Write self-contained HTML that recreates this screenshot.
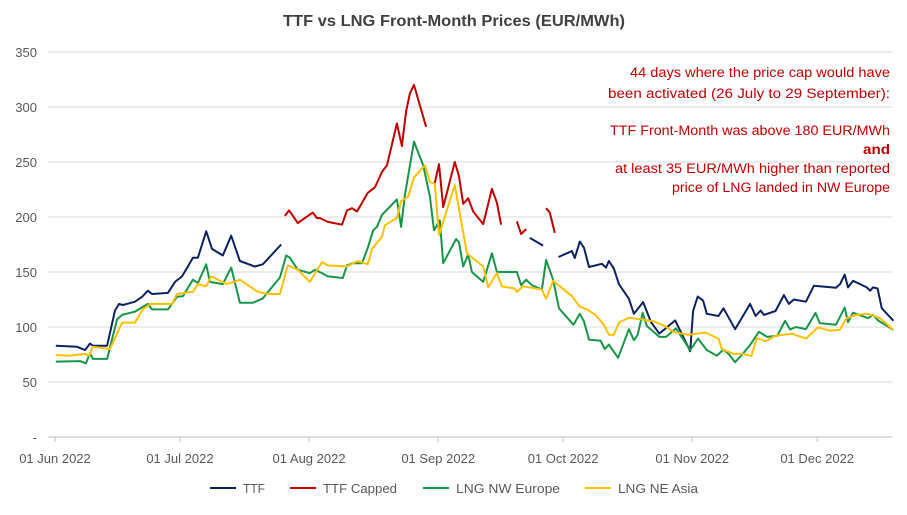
<!DOCTYPE html>
<html><head><meta charset="utf-8"><style>
body{margin:0;background:#fff;width:907px;height:510px;overflow:hidden;font-family:"Liberation Sans",sans-serif}
svg text{font-family:"Liberation Sans",sans-serif}
</style></head><body>
<svg id="chart" width="907" height="510" xmlns="http://www.w3.org/2000/svg">
<text x="283" y="26" textLength="342" lengthAdjust="spacingAndGlyphs" font-size="15.5" font-weight="bold" fill="#404040">TTF vs LNG Front-Month Prices (EUR/MWh)</text>
<g id="grid"></g><g id="yt"></g><g id="xt"></g><g id="series"></g>
<g fill="#C00000" font-size="13.5" text-anchor="end">
<text x="890" y="77" textLength="260" lengthAdjust="spacingAndGlyphs">44 days where the price cap would have</text>
<text x="890" y="98" textLength="282" lengthAdjust="spacingAndGlyphs">been activated (26 July to 29 September):</text>
<text x="890" y="135" textLength="280" lengthAdjust="spacingAndGlyphs">TTF Front-Month  was above 180 EUR/MWh</text>
<text x="890" y="154" font-weight="bold" textLength="27" lengthAdjust="spacingAndGlyphs">and</text>
<text x="890" y="173" textLength="275" lengthAdjust="spacingAndGlyphs">at least 35 EUR/MWh higher than reported</text>
<text x="890" y="192" textLength="218" lengthAdjust="spacingAndGlyphs">price of LNG landed in NW Europe</text>
</g>
<g id="legend"></g>
</svg>
<script>
const yTicks=[0,50,100,150,200,250,300,350];
const xTickDays=[0,30,61,92,122,153,183];
const xTickLabels=["01 Jun 2022","01 Jul 2022","01 Aug 2022","01 Sep 2022","01 Oct 2022","01 Nov 2022","01 Dec 2022"];
const seriesNames=["TTF","TTF Capped","LNG NW Europe","LNG NE Asia"];
const seriesColors=["#0D2161","#C00000","#17964A","#FFC000"];
const ttf=[[0.2,83],[5.3,82],[7.2,79],[8.4,85],[9.1,83],[12.5,83],[14.4,115],[15.4,121],[16.3,120],[19.2,123],[20.9,127.5],[22.3,133],[23.3,130],[27.1,131],[28.8,141],[30.5,146],[31.9,155],[33.1,163],[34.3,163],[36.3,187],[37.7,171],[40.3,165],[42.3,183],[44.4,160],[48,155],[49.9,157],[54.3,175],null,[114,181],[117.2,174],null,[120.9,163.6],[124.1,169],[124.8,162.7],[126,177.6],[127,172],[128.2,154.5],[131.3,157.5],[132.3,154],[133,160],[134.2,153],[135.4,139],[137.8,125.6],[139,112],[141.2,122.6],[143.1,104.5],[145.1,94],[148.9,106],[152.5,78],[153.2,114.5],[154.3,127.7],[155.6,124],[156.5,112],[159.3,110],[160.5,117],[163.3,98],[166.9,121],[168.2,110],[169.4,115],[170.2,111],[173,114.5],[175,129],[176.2,121],[177.4,125],[180.3,123],[182.2,137.5],[187.5,135.6],[188.5,139],[189.6,147.6],[190.4,136],[191.6,142],[194.9,136],[195.7,133],[196.4,136],[197.5,135],[198.5,117],[201.3,105.7]];
const ttfCapped=[[55.2,201],[56.2,206],[58.3,194.5],[61.9,204],[62.9,199],[63.6,199],[65.5,195.5],[68.9,193],[70.1,206],[71.3,208],[72.5,205],[75.1,222],[76.8,227],[78.5,241],[79.7,247],[82.1,285],[83.3,264.5],[84.3,296],[85.2,312.5],[86.2,320],[89.1,282],null,[91.2,231],[92.2,248],[93.2,209],[96,250],[97,237],[98,212],[99.2,217],[100.4,205],[102.8,193.5],[104.9,225.5],[106.1,213],[107.1,193],null,[110.9,196],[111.9,184.5],[113.1,189],null,[117.9,208],[118.8,204],[120,185.5]];
const lngNW=[[0.2,68.5],[6,69],[7.4,67],[8.4,76],[9.1,71],[12.5,71],[14.9,107],[16.1,111],[19.2,114],[22.3,121],[23.3,116],[27.1,116],[29.3,127.5],[30.7,128],[33.1,143],[34.3,140],[36.3,157],[37.2,141],[40.3,139],[42.3,154],[44.4,122],[47.5,122],[49.9,126],[54,145],[55.5,165],[56.4,163],[58.3,152],[61.2,149],[62.4,152],[64.1,149],[65.5,146],[69.1,144.5],[70.1,156],[71.5,158],[73.7,158],[75.1,172],[76.4,188],[77.3,191],[78.5,202],[82.1,216],[83.1,191],[84,220],[86.2,268.5],[88.4,247],[90,218.5],[91,188],[92.4,197],[93.2,158],[96.3,180],[97,177],[98,155],[99.2,166],[100.1,150],[102.8,141],[104.9,167],[106.1,150],[110.9,150],[111.9,138],[113.1,143],[114.5,138],[116.9,134],[117.9,161],[119.6,143],[121,117],[124.5,102],[126,112],[127,105],[128.2,88.5],[131,87.5],[132,80],[133,84],[133.7,80],[135.2,72],[137.8,98],[139,88],[139.9,93],[141.1,113],[142.1,101],[145.1,91],[146.7,91],[149.1,98.7],[152.5,79],[154.4,89.5],[156.5,79],[158.9,74],[160.5,79.5],[161.7,75.6],[163.3,68],[165,75],[166.9,83.6],[169,95.6],[171,91],[173.4,92],[175.3,105.5],[176.5,97.7],[177.9,100],[180.3,98],[182.6,112.8],[183.6,103.5],[187.5,102],[189.6,117.6],[190.4,104.5],[191.6,113],[195.2,108],[196.4,111],[197.6,106],[201.3,97.3]];
const lngAsia=[[0.2,74.5],[3.6,74],[7.2,75.5],[8.2,74],[9.1,82],[13.2,80],[16.1,104],[19.2,104],[20.9,115],[22.8,121],[28.1,121],[29.3,130],[33.1,132],[34.3,139],[36.3,137],[37.5,146],[41.3,139],[44.4,143],[48.7,132],[51.1,130],[54,130],[55.9,156],[58.3,152],[61.2,141],[64.1,159],[65.5,156],[70.1,155],[72.7,160],[75.1,157],[76.1,171],[78.5,182],[79.2,192.5],[82.1,199],[83.1,214.5],[84.8,218.5],[86.2,236],[88.8,247],[90,232],[91.2,230],[92.2,183.5],[96,229],[98.9,167],[102.8,155],[104,136],[106.1,149],[107.3,137],[110.4,135],[110.9,132],[112.4,137],[116.9,134],[117.9,125.5],[119.6,142],[121.2,137],[124.1,128],[126,118.5],[127.7,116],[129.8,111],[131.8,102],[133,93],[134.2,93],[135.4,104],[137.8,108.5],[140.7,107],[143.9,105],[146.4,101],[148.4,95.6],[152,92.8],[156.1,95],[159.3,89.5],[160.1,80],[162.9,75.6],[165,75.6],[167.2,73.6],[168.5,90],[170.6,87],[173,92],[177,93.8],[180.3,89.5],[183.2,99.6],[186,96.6],[188.4,97.5],[190,107.8],[192.4,111],[195.2,112],[198.1,108],[201.3,97.3]];
const allSeries=[ttf,ttfCapped,lngNW,lngAsia];
const NS="http://www.w3.org/2000/svg";
const X0=55,PXD=4.165,Y0=437,PXV=1.1;
function xs(d){return X0+d*PXD}
function ys(v){return Y0-v*PXV}
function mk(tag,attrs,parent){const e=document.createElementNS(NS,tag);for(const k in attrs)e.setAttribute(k,attrs[k]);parent.appendChild(e);return e}
const grid=document.getElementById('grid'),yt=document.getElementById('yt'),xt=document.getElementById('xt'),sg=document.getElementById('series'),lg=document.getElementById('legend');
yTicks.forEach(v=>{
 const l=mk('line',{x1:48,x2:892,y1:ys(v),y2:ys(v),stroke:v===0?'#BFBFBF':'#D9D9D9','stroke-width':1},grid);
 
 
 const t=mk('text',{x:37,y:ys(v)+5,'text-anchor':'end','font-size':13,fill:'#595959'},yt);
 t.textContent=v===0?'-':String(v);
 
 
});
xTickDays.forEach((d,i)=>{
 const l=mk('line',{x1:xs(d),x2:xs(d),y1:Y0,y2:Y0+5,stroke:'#BFBFBF'},xt);
 
 
 const t=mk('text',{x:xs(d),y:463,'text-anchor':'middle','font-size':13,fill:'#595959'},xt);
 t.textContent=xTickLabels[i];
 
 
});
allSeries.forEach((s,i)=>{
 let d='',pen=false;
 s.forEach(p=>{if(!p){pen=false;return}d+=(pen?'L':'M')+xs(p[0]).toFixed(1)+','+ys(p[1]).toFixed(1);pen=true});
 const path=mk('path',{d:d,fill:'none',stroke:seriesColors[i],'stroke-width':2,'stroke-linejoin':'round'},sg);
 
 
});
const legX=[210,290,423,585];
const legW=[22,74,104,80];
seriesNames.forEach((n,i)=>{
 const g=mk('g',{},lg);
 
 
 mk('line',{x1:legX[i],x2:legX[i]+26,y1:488,y2:488,stroke:seriesColors[i],'stroke-width':2},g);
 const t=mk('text',{x:legX[i]+33,y:493,'font-size':13,fill:'#595959',textLength:legW[i],lengthAdjust:'spacingAndGlyphs'},g);
 t.textContent=n;
});
</script>
</body></html>
